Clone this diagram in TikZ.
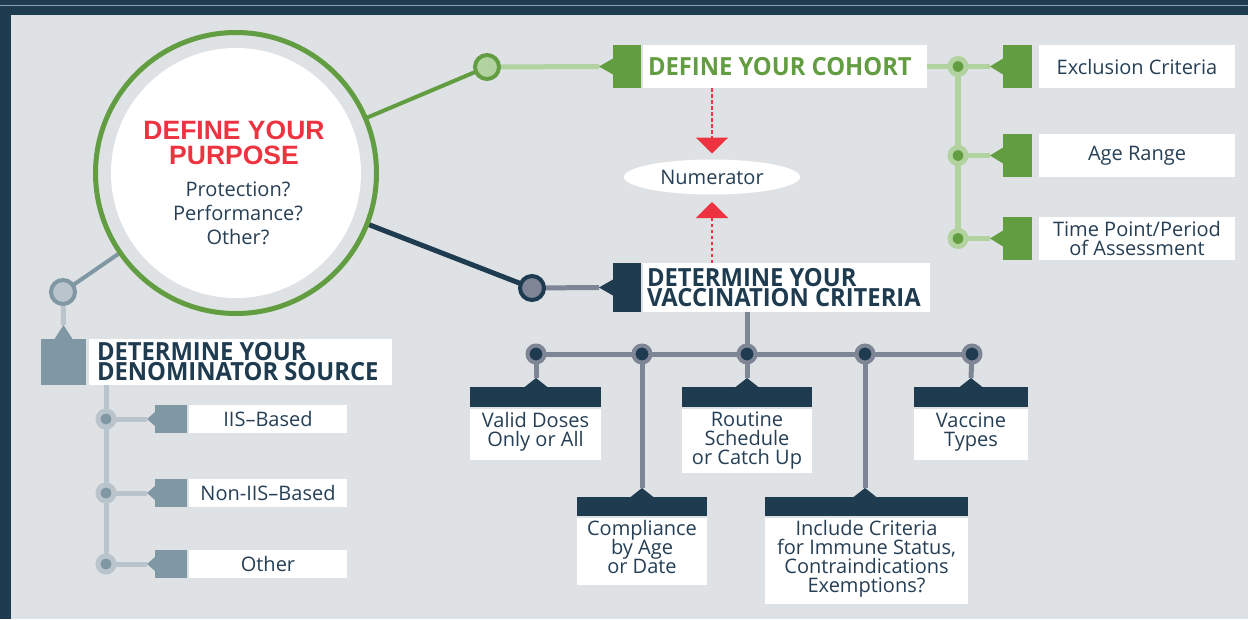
\documentclass[tikz,border=0pt]{standalone}
\usepackage{fontspec}
\setmainfont{Open Sans}
\newfontfamily\titlefont{Liberation Sans}
\newfontfamily\headfamily{Open Sans}[FakeStretch=0.95]
\usetikzlibrary{arrows.meta,shapes.geometric}
\definecolor{navy}{HTML}{1E3B50}
\definecolor{panel}{HTML}{DFE2E5}
\definecolor{grn}{HTML}{629E41}
\definecolor{lgrn}{HTML}{B2D3A0}
\definecolor{redc}{HTML}{EE3340}
\definecolor{gline}{HTML}{7E8594}
\definecolor{gblue}{HTML}{8097A4}
\definecolor{lgray}{HTML}{BAC4CC}
\definecolor{txt}{HTML}{263F55}
\definecolor{topline}{HTML}{8CA0B0}
\newcommand\headf{\headfamily\bfseries\fontsize{25}{20}\selectfont\lineskiplimit=-30pt}
\newcommand\myBody{\fontsize{20}{18.7}\selectfont\lineskiplimit=-30pt}
\pgfdeclarelayer{back}
\pgfdeclarelayer{lines}
\pgfsetlayers{back,lines,main}
\begin{document}
\begin{tikzpicture}[x=1pt,y=-1pt,
  every node/.style={inner sep=0pt, outer sep=0pt},
  box/.style={anchor=north west, rectangle},
  wlabel/.style={box, fill=white, font=\myBody, text=txt, align=center},
  htext/.style={font=\headf, align=left, anchor=west},
  dotc/.style={circle, minimum size=16pt, line width=5pt},
  bigdot/.style={circle, minimum size=24pt, line width=4pt},
  treedot/.style={circle, draw=gline, fill=navy, minimum size=17pt, line width=4pt},
  numarrow/.style={redc, line width=2.5pt, dash pattern=on 3.5pt off 2.5pt, -{Triangle[width=32pt,length=16pt]}},
  bodytext/.style={font=\myBody, text=txt, align=center, anchor=base}
]
\useasboundingbox (0,0) rectangle (1248,619);
\begin{pgfonlayer}{back}
\fill[navy] (0,0) rectangle (1248,619);
\fill[panel] (11,15) rectangle (1248,619);
\draw[topline, line width=1pt] (0,5) -- (1248,5);
\end{pgfonlayer}

% ---------- purpose circle ----------
\node[circle, draw=grn, line width=5pt, minimum size=281pt, fill=panel] (purpose) at (236,173) {};
\fill[white] (purpose.center) circle[radius=125pt];
\node[font=\titlefont\bfseries\fontsize{26.5}{24.5}\selectfont, text=redc, align=center] (ptitle) at (234,143) {DEFINE YOUR\\PURPOSE};
\node[font=\fontsize{20}{24}\selectfont, text=txt, align=center] (pq) at (238,213) {Protection?\\Performance?\\Other?};

% ---------- cohort ----------
\node[bigdot, draw=grn, fill=lgrn] (cohdot) at (487,67) {};
\coordinate (cohtip) at (599,66.5);
\node[box, fill=grn, minimum width=28pt, minimum height=43pt] (cohsq) at (613,45) {};
\fill[grn] (cohtip) -- ++(14,-8) -- ++(0,16) -- cycle;
\node[box, fill=white, minimum width=284pt, minimum height=43pt] (cohbox) at (643,45) {};
\node[htext, text=grn] (cohlbl) at ([xshift=5pt]cohbox.west) {DEFINE YOUR COHORT};

\node[dotc, draw=lgrn, fill=grn] (r1) at (958,66.5) {};
\node[dotc, draw=lgrn, fill=grn] (r2) at (958,155.5) {};
\node[dotc, draw=lgrn, fill=grn] (r3) at (958,238.5) {};
\coordinate (rt1) at (990,66.5);
\coordinate (rt2) at (990,155.5);
\coordinate (rt3) at (990,238.5);
\node[box, fill=grn, minimum width=29pt, minimum height=43pt] (rs1) at (1003,45) {};
\node[box, fill=grn, minimum width=29pt, minimum height=43pt] (rs2) at (1003,134) {};
\node[box, fill=grn, minimum width=29pt, minimum height=43pt] (rs3) at (1003,217) {};
\foreach \t in {rt1,rt2,rt3} \fill[grn] (\t) -- ++(13,-8) -- ++(0,16) -- cycle;
\node[wlabel, minimum width=196pt, minimum height=43pt] (rl1) at (1039,45) {Exclusion Criteria};
\node[wlabel, minimum width=196pt, minimum height=43pt] (rl2) at (1039,134) {Age Range};
\node[wlabel, minimum width=196pt, minimum height=43pt] (rl3) at (1039,217) {Time Point/Period\\of Assessment};

% ---------- numerator ----------
\node[ellipse, fill=white, minimum width=176pt, minimum height=35pt, font=\myBody, text=txt] (num) at (712,177) {Numerator};

% ---------- vaccination criteria ----------
\node[bigdot, draw=navy, fill=gline] (vacdot) at (532,288) {};
\coordinate (vactip) at (599,287.5);
\node[box, fill=navy, minimum width=28pt, minimum height=49pt] (vacsq) at (613,263) {};
\fill[navy] (vactip) -- ++(14,-8) -- ++(0,16) -- cycle;
\node[box, fill=white, minimum width=287pt, minimum height=49pt] (vacbox) at (643,263) {};
\node[htext, text=navy] (vaclbl) at ([xshift=4pt]vacbox.west) {DETERMINE YOUR\\VACCINATION CRITERIA};

\node[treedot] (c1) at (536,354) {};
\node[treedot] (c2) at (642,354) {};
\node[treedot] (c3) at (747,354) {};
\node[treedot] (c4) at (865,354) {};
\node[treedot] (c5) at (972,354) {};

% row 1 boxes
\node[box, fill=navy, minimum width=131pt, minimum height=20pt] (h1) at (470,387) {};
\node[box, fill=white, minimum width=131pt, minimum height=51pt] (b1) at (470,409) {};
\node[box, fill=navy, minimum width=130pt, minimum height=20pt] (h3) at (682,387) {};
\node[box, fill=white, minimum width=130pt, minimum height=64pt] (b3) at (682,409) {};
\node[box, fill=navy, minimum width=114pt, minimum height=20pt] (h5) at (914,387) {};
\node[box, fill=white, minimum width=114pt, minimum height=51pt] (b5) at (914,409) {};
% row 2 boxes
\node[box, fill=navy, minimum width=130pt, minimum height=19pt] (h2) at (577,497) {};
\node[box, fill=white, minimum width=130pt, minimum height=67pt] (b2) at (577,518) {};
\node[box, fill=navy, minimum width=203pt, minimum height=19pt] (h4) at (765,497) {};
\node[box, fill=white, minimum width=203pt, minimum height=86pt] (b4) at (765,518) {};

\coordinate (t1) at (536,378);
\coordinate (t2) at (642,488);
\coordinate (t3) at (747,378);
\coordinate (t4) at (865,488);
\coordinate (t5) at (971,378);
\foreach \t in {t1,t2,t3,t4,t5} \fill[navy] (\t) -- ++(12,9.5) -- ++(-24,0) -- cycle;

\node[bodytext] (x1) at (535.5,446) {Valid Doses\\Only or All};
\node[bodytext] (x3) at (747,464) {Routine\\Schedule\\or Catch Up};
\node[bodytext] (x5) at (971,446) {Vaccine\\Types};
\node[bodytext] (x2) at (642,573) {Compliance\\by Age\\or Date};
\node[bodytext] (x4) at (866.5,592) {Include Criteria\\for Immune Status,\\Contraindications\\Exemptions?};

% ---------- denominator ----------
\node[bigdot, draw=gblue, fill=lgray] (dendot) at (63,292) {};
\coordinate (dentip) at (63.5,325);
\node[box, fill=gblue, minimum width=45pt, minimum height=46pt] (densq) at (41,339) {};
\fill[gblue] (dentip) -- ++(9,14) -- ++(-18,0) -- cycle;
\node[box, fill=white, minimum width=303pt, minimum height=46pt] (denbox) at (89,339) {};
\node[htext, text=navy] (denlbl) at ([xshift=8pt]denbox.west) {DETERMINE YOUR\\DENOMINATOR SOURCE};

\node[dotc, draw=lgray, fill=gblue] (d1) at (106,419) {};
\node[dotc, draw=lgray, fill=gblue] (d2) at (106,493) {};
\node[dotc, draw=lgray, fill=gblue] (d3) at (106,564) {};
\coordinate (dt1) at (147,419);
\coordinate (dt2) at (147,493);
\coordinate (dt3) at (147,564);
\node[box, fill=gblue, minimum width=32pt, minimum height=28pt] (ds1) at (155,405) {};
\node[box, fill=gblue, minimum width=32pt, minimum height=28pt] (ds2) at (155,479) {};
\node[box, fill=gblue, minimum width=32pt, minimum height=28pt] (ds3) at (155,550) {};
\foreach \t in {dt1,dt2,dt3} \fill[gblue] (\t) -- ++(8,-7) -- ++(0,14) -- cycle;
\node[wlabel, minimum width=158pt, minimum height=28pt] (dl1) at (189,405) {IIS–Based};
\node[wlabel, minimum width=158pt, minimum height=28pt] (dl2) at (189,479) {Non-IIS–Based};
\node[wlabel, minimum width=158pt, minimum height=28pt] (dl3) at (189,550) {Other};

% ---------- connectors ----------
\begin{pgfonlayer}{lines}
\draw[grn, line width=4pt] (purpose) -- (cohdot);
\draw[lgrn, line width=5pt] (cohdot) -- (cohtip);
\draw[lgrn, line width=5pt] (cohbox.east) -- (r1);
\draw[lgrn, line width=6pt] (r1) -- (r3);
\draw[lgrn, line width=5pt] (r1) -- (rt1);
\draw[lgrn, line width=5pt] (r2) -- (rt2);
\draw[lgrn, line width=5pt] (r3) -- (rt3);

\draw[navy, line width=5pt] (purpose) -- (vacdot);
\draw[gline, line width=5pt] (vacdot) -- (vactip);
\draw[gline, line width=5pt] (c3 |- vacbox.south) -- (c3);
\draw[gline, line width=5pt] (c1) -- (c5);
\draw[gline, line width=5pt] (c1) -- (t1);
\draw[gline, line width=5pt] (c2) -- (t2);
\draw[gline, line width=5pt] (c3) -- (t3);
\draw[gline, line width=5pt] (c4) -- (t4);
\draw[gline, line width=5pt] (c5) -- (t5);

\draw[gblue, line width=4pt] (purpose) -- (dendot);
\draw[lgray, line width=5pt] (dendot) -- (dentip);
\draw[lgray, line width=5pt] (d1 |- denbox.south) -- (d3);
\draw[lgray, line width=5pt] (d1) -- (dt1);
\draw[lgray, line width=5pt] (d2) -- (dt2);
\draw[lgray, line width=5pt] (d3) -- (dt3);
\end{pgfonlayer}

\draw[numarrow, shorten >=6pt] (num.north |- cohbox.south) -- (num.north);
\draw[numarrow, shorten >=7.5pt] (num.south |- vacbox.north) -- (num.south);
\end{tikzpicture}
\end{document}
